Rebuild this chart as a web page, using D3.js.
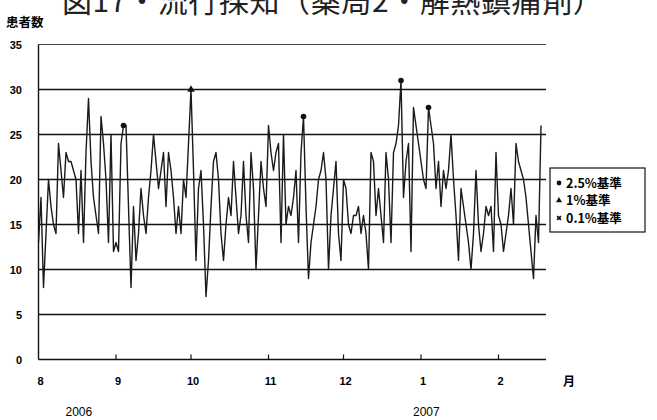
<!DOCTYPE html>
<html>
<head>
<meta charset="utf-8">
<script src="https://cdn.jsdelivr.net/npm/d3@7"></script>
<style>
  body { margin: 0; background: #fff; }
  svg { display: block; }
</style>
</head>
<body>
<div id="canvas"></div>
<script>
// daily patient counts from 2006-08-01
var startDate = new Date(2006, 7, 1);
var endDate = new Date(2007, 1, 20);
var counts = [
  13, 18, 8, 14, 20, 17, 15, 14, 24, 21,
  18, 23, 22, 22, 21, 20, 14, 21, 13, 23,
  29, 22, 18, 16, 14, 27, 24, 20, 13, 25,
  12, 13, 12, 24, 26, 26, 17, 8, 17, 11,
  14, 19, 16, 14, 18, 21, 25, 22, 19, 21,
  23, 17, 23, 21, 18, 14, 17, 14, 20, 18,
  24, 30, 21, 11, 19, 21, 15, 7, 11, 17,
  22, 23, 20, 14, 11, 15, 18, 16, 22, 18,
  14, 16, 22, 16, 13, 23, 19, 10, 16, 22,
  19, 17, 26, 23, 21, 23, 24, 13, 25, 15,
  17, 16, 18, 21, 13, 23, 27, 17, 9, 13,
  15, 17, 20, 21, 23, 20, 10, 16, 19, 22,
  14, 11, 20, 19, 15, 14, 16, 16, 17, 14,
  16, 14, 10, 23, 22, 16, 19, 16, 13, 23,
  20, 13, 23, 24, 26, 31, 18, 22, 24, 12,
  28, 26, 24, 22, 20, 19, 28, 26, 24, 19,
  22, 17, 21, 19, 21, 25, 20, 16, 11, 19,
  17, 15, 13, 10, 14, 21, 15, 12, 14, 17,
  16, 17, 12, 23, 16, 15, 12, 14, 16, 19,
  15, 24, 22, 21, 20, 18, 15, 12, 9, 16,
  13, 26
];
// detection markers: day index into counts
var alert25 = [34, 145, 156, 106];
var alert1 = [61];
var alert01 = [];

var yTicks = [0, 5, 10, 15, 20, 25, 30, 35];
var monthDates = [new Date(2006, 7, 1), new Date(2006, 8, 1), new Date(2006, 9, 1),
  new Date(2006, 10, 1), new Date(2006, 11, 1), new Date(2007, 0, 1), new Date(2007, 1, 1)];
var monthLabels = ["8", "9", "10", "11", "12", "1", "2"];
var years = [{ label: "2006", date: new Date(2006, 7, 15) }, { label: "2007", date: new Date(2007, 0, 1) }];
var legendItems = ["2.5%基準", "1%基準", "0.1%基準"];

var width = 657, height = 420;
var plotLeft = 38.5, plotRight = 546, plotTop = 44.5, plotBottom = 359.5;

var svg = d3.select("#canvas").append("svg")
  .attr("width", width).attr("height", height);

var x = d3.scaleTime().domain([startDate, endDate]).range([plotLeft, plotRight]);
var y = d3.scaleLinear().domain([0, 35]).range([plotBottom, plotTop]);

function dayDate(i) { return d3.timeDay.offset(startDate, i); }

// title (cut off at the top edge)
svg.append("text")
  .attr("x", 62).attr("y", 12)
  .attr("font-family", "Noto Sans CJK JP")
  .attr("font-size", 30)
  .attr("letter-spacing", 0.6)
  .attr("fill", "#222")
  .text("図17・流行探知（薬局2・解熱鎮痛剤）");

svg.append("text")
  .attr("x", 6).attr("y", 27)
  .attr("font-family", "Noto Sans CJK JP")
  .attr("font-weight", "bold")
  .attr("font-size", 12.5)
  .text("患者数");

// gridlines
svg.selectAll("line.grid").data(yTicks).enter().append("line")
  .attr("class", "grid")
  .attr("x1", plotLeft).attr("x2", plotRight)
  .attr("y1", function(d) { return y(d); })
  .attr("y2", function(d) { return y(d); })
  .style("stroke", function(d) { return d == 35 ? "#444" : "#111"; })
  .style("stroke-width", function(d) { return d == 35 ? 1 : 1.4; });

// y axis line
svg.append("line")
  .attr("x1", plotLeft).attr("x2", plotLeft).attr("y1", plotTop).attr("y2", plotBottom)
  .style("stroke", "#111").style("stroke-width", 1.4);

svg.selectAll("text.ylab").data(yTicks).enter().append("text")
  .attr("class", "ylab")
  .attr("x", 22)
  .attr("y", function(d) { return y(d) + 4; })
  .attr("text-anchor", "end")
  .attr("font-family", "Liberation Sans")
  .attr("font-weight", "bold")
  .attr("font-size", 11)
  .text(function(d) { return d; });

// month ticks (pointing up)
svg.selectAll("line.mtick").data(monthDates.slice(1)).enter().append("line")
  .attr("class", "mtick")
  .attr("x1", function(d) { return x(d); }).attr("x2", function(d) { return x(d); })
  .attr("y1", plotBottom).attr("y2", plotBottom - 5)
  .style("stroke", "#111").style("stroke-width", 1.2);

svg.selectAll("text.mlab").data(monthDates).enter().append("text")
  .attr("class", "mlab")
  .attr("x", function(d) { return x(d) + 2; })
  .attr("y", 385)
  .attr("text-anchor", "middle")
  .attr("font-family", "Liberation Sans")
  .attr("font-weight", "bold")
  .attr("font-size", 11)
  .text(function(d, i) { return monthLabels[i]; });

svg.append("text")
  .attr("x", 563).attr("y", 386)
  .attr("font-family", "Noto Sans CJK JP")
  .attr("font-weight", "bold")
  .attr("font-size", 12)
  .text("月");

svg.selectAll("text.year").data(years).enter().append("text")
  .attr("class", "year")
  .attr("x", function(d) { return x(d.date) - 8; })
  .attr("y", 416)
  .attr("font-family", "Liberation Sans Narrow, Liberation Sans")
  .attr("font-size", 12)
  .text(function(d) { return d.label; });

// data line
var line = d3.line()
  .x(function(d, i) { return x(dayDate(i)); })
  .y(function(d) { return y(d); });

svg.append("path")
  .datum(counts)
  .attr("d", line)
  .style("fill", "none")
  .style("stroke", "#1a1a1a")
  .style("stroke-width", 1.4)
  .style("stroke-linejoin", "round");

// markers
svg.selectAll("circle.a25").data(alert25).enter().append("circle")
  .attr("class", "a25")
  .attr("cx", function(d) { return x(dayDate(d)); })
  .attr("cy", function(d) { return y(counts[d]); })
  .attr("r", 2.8)
  .style("fill", "#111");

svg.selectAll("path.a1").data(alert1).enter().append("path")
  .attr("class", "a1")
  .attr("d", d3.symbol().type(d3.symbolTriangle).size(24))
  .attr("transform", function(d) { return "translate(" + x(dayDate(d)) + "," + y(counts[d]) + ")"; })
  .style("fill", "#111");

svg.selectAll("path.a01").data(alert01).enter().append("path")
  .attr("class", "a01")
  .attr("d", d3.symbol().type(d3.symbolCross).size(22))
  .attr("transform", function(d) { return "translate(" + x(dayDate(d)) + "," + y(counts[d]) + ") rotate(45)"; })
  .style("fill", "#111");

// legend
var lg = svg.append("g").attr("transform", "translate(550,168)");
lg.append("rect")
  .attr("x", 0).attr("y", 0).attr("width", 95).attr("height", 64)
  .style("fill", "#fff").style("stroke", "#111").style("stroke-width", 1.2);

var symbols = [d3.symbolCircle, d3.symbolTriangle, d3.symbolCross];
lg.selectAll("path.ls").data(legendItems).enter().append("path")
  .attr("class", "ls")
  .attr("d", function(d, i) { return d3.symbol().type(symbols[i]).size(i == 0 ? 18 : 16)(); })
  .attr("transform", function(d, i) { return "translate(9," + (15 + i * 17.5) + ")" + (i == 2 ? " rotate(45)" : ""); })
  .style("fill", "#111");

lg.selectAll("text.lt").data(legendItems).enter().append("text")
  .attr("class", "lt")
  .attr("x", 16)
  .attr("y", function(d, i) { return 19.5 + i * 17.5; })
  .attr("font-family", "Noto Sans CJK JP")
  .attr("font-weight", "bold")
  .attr("font-size", 12.5)
  .text(function(d) { return d; });
</script>
</body>
</html>
